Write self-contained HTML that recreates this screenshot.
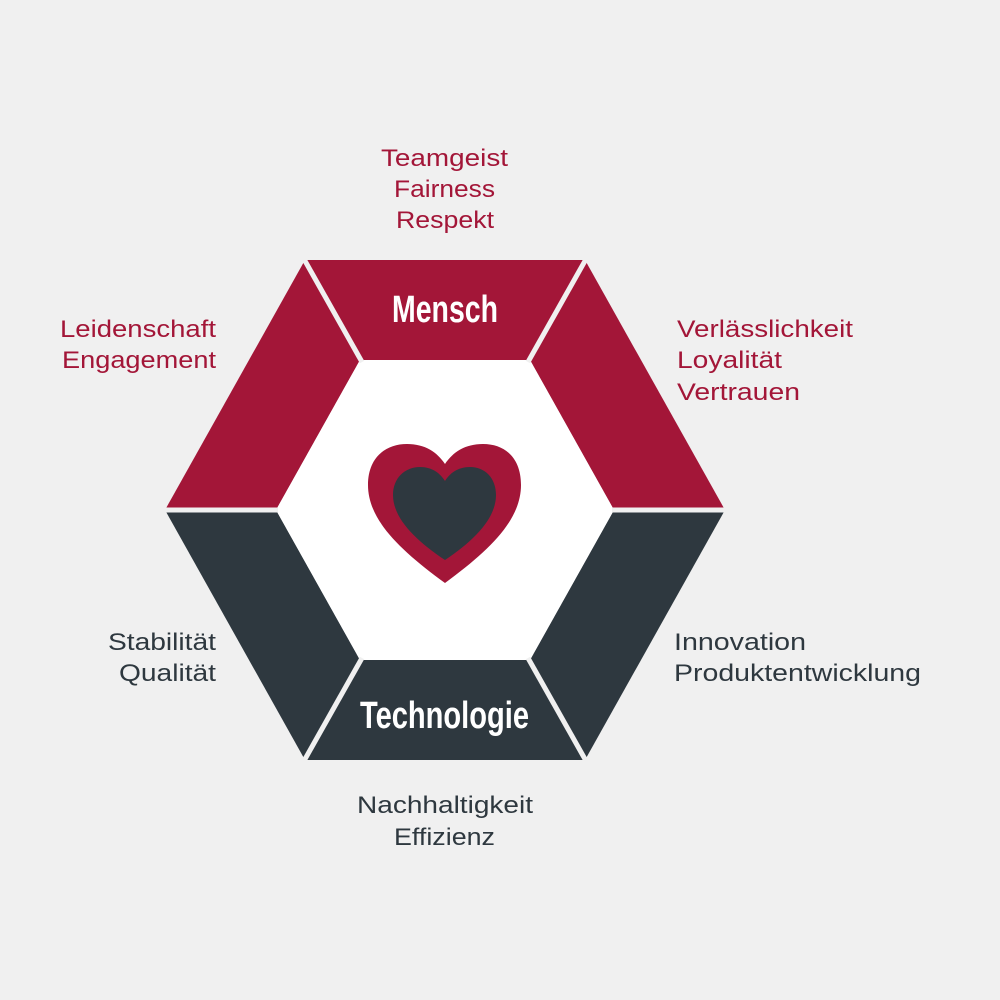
<!DOCTYPE html>
<html><head><meta charset="utf-8"><style>
html,body{margin:0;padding:0;background:#f0f0f0;}
svg{display:block}
text{font-family:"Liberation Sans",sans-serif;font-size:24px}
.r{fill:#a31638}.d{fill:#2e383f}
.b{font-family:"Liberation Sans Narrow","Liberation Sans",sans-serif;font-weight:bold;fill:#fff;font-size:38px}
</style></head><body>
<svg width="1000" height="1000" viewBox="0 0 1000 1000">
<rect width="1000" height="1000" fill="#f0f0f0"/>
<polygon points="305,260 585,260 530,360 360,360" fill="#a31638"/>
<polygon points="585,260 725,510 614,510 530,360" fill="#a31638"/>
<polygon points="305,260 360,360 276,510 165,510" fill="#a31638"/>
<polygon points="165,510 276,510 360,660 305,760" fill="#2e383f"/>
<polygon points="725,510 585,760 530,660 614,510" fill="#2e383f"/>
<polygon points="305,760 360,660 530,660 585,760" fill="#2e383f"/>
<polygon points="360,360 530,360 614,510 530,660 360,660 276,510" fill="#fff"/>
<g stroke="#f0f0f0" stroke-width="5">
<line x1="300" y1="252" x2="362" y2="362"/>
<line x1="590" y1="252" x2="528" y2="362"/>
<line x1="160" y1="510" x2="278" y2="510"/>
<line x1="612" y1="510" x2="730" y2="510"/>
<line x1="362" y1="658" x2="300" y2="768"/>
<line x1="528" y1="658" x2="590" y2="768"/>
</g>
<path d="M445,583 C400,550 368,520 368,485 C368,458 385,444 407,444 C425,444 437,452 445,464 C453,452 465,444 483,444 C505,444 521,458 521,485 C521,520 490,550 445,583 Z" fill="#a31638"/>
<path d="M445,560 C415,540 393,518 393,495 C393,478 405,467 420,467 C432,467 440,473 445,481 C450,473 458,467 470,467 C485,467 496,478 496,495 C496,518 475,540 445,560 Z" fill="#2e383f"/>
<text class="b" x="392" y="322" textLength="106" lengthAdjust="spacingAndGlyphs">Mensch</text>
<text class="b" x="360" y="728" textLength="169" lengthAdjust="spacingAndGlyphs">Technologie</text>
<g class="r">
<text x="381" y="166" textLength="127" lengthAdjust="spacingAndGlyphs">Teamgeist</text>
<text x="394" y="197" textLength="101" lengthAdjust="spacingAndGlyphs">Fairness</text>
<text x="396" y="228" textLength="98" lengthAdjust="spacingAndGlyphs">Respekt</text>
<text x="60" y="337" textLength="156" lengthAdjust="spacingAndGlyphs">Leidenschaft</text>
<text x="62" y="368" textLength="154" lengthAdjust="spacingAndGlyphs">Engagement</text>
<text x="677" y="337" textLength="176" lengthAdjust="spacingAndGlyphs">Verlässlichkeit</text>
<text x="677" y="368" textLength="105" lengthAdjust="spacingAndGlyphs">Loyalität</text>
<text x="677" y="400" textLength="123" lengthAdjust="spacingAndGlyphs">Vertrauen</text>
</g>
<g class="d">
<text x="674" y="650" textLength="132" lengthAdjust="spacingAndGlyphs">Innovation</text>
<text x="674" y="681" textLength="247" lengthAdjust="spacingAndGlyphs">Produktentwicklung</text>
<text x="108" y="650" textLength="108" lengthAdjust="spacingAndGlyphs">Stabilität</text>
<text x="119" y="681" textLength="97" lengthAdjust="spacingAndGlyphs">Qualität</text>
<text x="357" y="813" textLength="176" lengthAdjust="spacingAndGlyphs">Nachhaltigkeit</text>
<text x="394" y="845" textLength="101" lengthAdjust="spacingAndGlyphs">Effizienz</text>
</g>
</svg>
</body></html>
